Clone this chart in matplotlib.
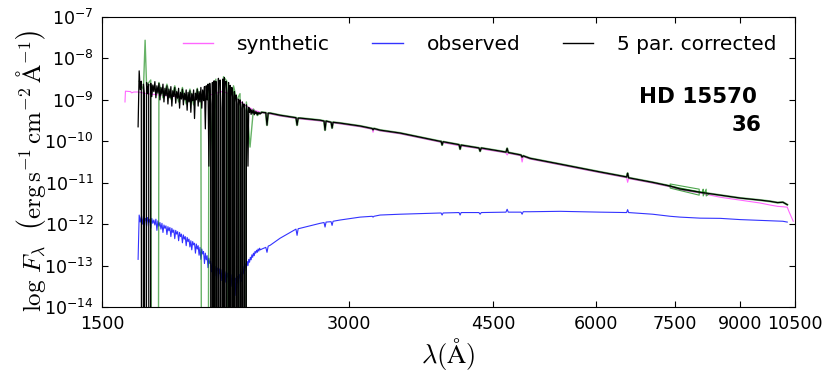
import matplotlib
matplotlib.use('Agg')
import matplotlib.pyplot as plt
import numpy as np
from matplotlib.ticker import FixedLocator, FixedFormatter, NullLocator, LogLocator

plt.rcParams['mathtext.fontset'] = 'cm'
plt.rcParams['axes.unicode_minus'] = False
plt.rcParams['font.family'] = ['DejaVu Sans']

# UV part, noisy: wavelength in A, log10 flux
# (-60 = flux dropped to ~0, off the plot)
uv_wave = [1660, 1665, 1670, 1675, 1680, 1685, 1690, 1695, 1700, 1705,
           1710, 1715, 1720, 1725, 1730, 1735, 1740, 1745, 1750, 1755,
           1760, 1765, 1770, 1775, 1780, 1785, 1790, 1795, 1800, 1805,
           1810, 1815, 1820, 1825, 1830, 1835, 1840, 1845, 1850, 1855,
           1860, 1865, 1870, 1875, 1880, 1885, 1890, 1895, 1900, 1905,
           1910, 1915, 1920, 1925, 1930, 1935, 1940, 1945, 1950, 1955,
           1960, 1965, 1970, 1975, 1980, 1985, 1990, 1995, 2000, 2005,
           2010, 2015, 2020, 2025, 2030, 2035, 2040, 2045, 2050, 2055,
           2060, 2065, 2070, 2075, 2080, 2085, 2090, 2095, 2100, 2105,
           2110, 2115, 2120, 2125, 2130, 2135, 2140, 2145, 2150, 2155,
           2160, 2165, 2170, 2175, 2180, 2185, 2190, 2195, 2200, 2205,
           2210, 2215, 2220, 2225, 2230, 2235, 2240, 2245, 2250, 2255,
           2260, 2265, 2270, 2275, 2280, 2285, 2290, 2295, 2300, 2305,
           2310, 2315, 2320, 2325, 2330, 2335, 2340]
corr_uv = [-9.65, -8.30, -8.75, -8.55, -60, -8.62, -8.88, -60, -8.58, -8.85,
           -8.62, -60, -8.60, -8.92, -8.64, -8.80, -8.56, -8.95, -8.66, -8.84,
           -8.60, -9.00, -8.70, -8.86, -8.62, -9.05, -8.72, -8.90, -8.66, -9.10,
           -8.74, -8.95, -8.68, -9.15, -8.78, -8.92, -8.70, -9.08, -8.80, -8.96,
           -8.72, -9.20, -8.82, -8.98, -8.74, -9.12, -8.84, -9.00, -8.76, -9.25,
           -8.82, -9.05, -8.78, -9.30, -8.85, -9.02, -8.76, -9.45, -8.84, -9.00,
           -8.74, -9.15, -8.80, -9.05, -8.70, -9.20, -8.76, -9.02, -8.68, -9.70,
           -8.66, -9.00, -8.62, -10.6, -8.60, -9.10, -60, -8.58, -60, -8.54,
           -60, -8.55, -8.90, -60, -8.48, -60, -8.52, -9.20, -60, -8.50,
           -60, -8.46, -60, -8.55, -8.85, -60, -8.58, -60, -8.65, -60,
           -8.70, -8.95, -60, -8.80, -60, -8.88, -9.10, -60, -8.98, -60,
           -9.00, -9.20, -60, -9.05, -60, -9.10, -9.25, -60, -9.12, -9.28,
           -10.6, -9.18, -9.30, -9.22, -9.35, -9.24, -9.32, -9.26, -9.36, -9.28,
           -9.33, -9.29, -9.36, -9.30, -9.34, -9.31, -9.34]
obs_uv = [-12.85, -11.78, -11.95, -11.82, -12.00, -11.80, -11.92, -11.86, -12.05, -11.84,
          -11.96, -11.88, -12.10, -11.86, -11.98, -11.90, -12.02, -11.88, -12.15, -11.92,
          -12.05, -11.96, -12.12, -11.98, -12.20, -12.02, -12.10, -12.04, -12.25, -12.06,
          -12.16, -12.08, -12.30, -12.10, -12.20, -12.14, -12.35, -12.15, -12.24, -12.18,
          -12.40, -12.20, -12.30, -12.24, -12.45, -12.26, -12.36, -12.30, -12.52, -12.32,
          -12.42, -12.36, -12.55, -12.40, -12.62, -12.42, -12.50, -12.46, -12.70, -12.48,
          -12.60, -12.52, -12.75, -12.56, -12.85, -12.60, -12.72, -12.66, -12.95, -12.70,
          -12.86, -12.76, -13.05, -12.82, -12.95, -12.90, -13.15, -12.94, -13.05, -12.98,
          -13.25, -13.02, -13.12, -13.06, -13.32, -13.08, -13.20, -13.10, -13.36, -13.12,
          -13.22, -13.14, -13.40, -13.15, -13.28, -13.18, -13.48, -13.20, -13.32, -13.22,
          -13.50, -13.24, -13.36, -13.28, -13.72, -13.30, -13.42, -13.26, -13.55, -13.22,
          -13.30, -13.15, -13.38, -13.08, -13.20, -13.02, -13.12, -12.96, -13.05, -12.90,
          -13.00, -12.85, -12.92, -12.80, -12.86, -12.74, -12.80, -12.70, -12.76, -12.66,
          -12.70, -12.63, -12.68, -12.60, -12.65, -12.58, -12.62]

# green curve in the UV
green_uv_wave = [1665, 1685, 1693, 1700, 1720, 1741, 1760, 1780, 1800, 1820,
                 1840, 1860, 1880, 1900, 1920, 1940, 1960, 1980, 2004, 2025,
                 2045, 2065, 2090, 2110, 2130, 2149, 2170, 2190, 2210, 2232,
                 2250, 2273, 2295, 2320, 2345]
green_uv = [-8.55, -8.75, -7.56, -8.65, -8.52, -60, -8.58, -8.95, -8.62, -8.98,
            -8.66, -9.05, -8.70, -9.10, -8.74, -9.12, -8.72, -9.05, -60, -8.62,
            -10.2, -8.50, -60, -8.44, -8.55, -60, -8.66, -9.00, -8.85, -60,
            -9.05, -10.14, -9.22, -9.38, -9.30]

# optical part
opt_wave = [2350, 2376, 2384, 2392, 2405, 2473, 2586, 2594, 2602, 2616,
            2767, 2798, 2806, 2814, 2854, 2862, 2870, 2927, 3096, 3203,
            3211, 3219, 3275, 3464, 3876, 3887, 3898, 3909, 4088, 4100,
            4112, 4323, 4337, 4351, 4664, 4679, 4694, 4865, 4880, 4895,
            4991, 5430, 6076, 6545, 6563, 6581, 7040, 7396, 7607, 8047,
            8512, 9003, 9524, 9800, 10000, 10150, 10275]
corr_opt = [-9.30, -9.31, -9.61, -9.32, -9.32, -9.37, -9.43, -9.61, -9.44, -9.44,
            -9.49, -9.51, -9.73, -9.51, -9.54, -9.68, -9.54, -9.56, -9.63, -9.69,
            -9.72, -9.69, -9.73, -9.80, -10.00, -10.00, -10.09, -10.01, -10.08, -10.19,
            -10.09, -10.16, -10.24, -10.16, -10.26, -10.17, -10.27, -10.33, -10.38, -10.35,
            -10.41, -10.55, -10.74, -10.86, -10.77, -10.88, -10.99, -11.08, -11.15, -11.23,
            -11.30, -11.37, -11.42, -11.45, -11.48, -11.47, -11.53]
obs_opt = [-12.60, -12.56, -12.68, -12.53, -12.51, -12.34, -12.12, -12.27, -12.11, -12.10,
           -11.98, -11.96, -12.07, -11.95, -11.94, -12.03, -11.93, -11.90, -11.83, -11.81,
           -11.83, -11.81, -11.78, -11.76, -11.73, -11.73, -11.78, -11.73, -11.72, -11.78,
           -11.72, -11.72, -11.76, -11.72, -11.71, -11.64, -11.71, -11.71, -11.76, -11.70,
           -11.70, -11.69, -11.71, -11.72, -11.65, -11.72, -11.76, -11.81, -11.83, -11.855,
           -11.86, -11.89, -11.91, -11.92, -11.93, -11.93, -11.95]

# synthetic model
syn_wave = [1600, 1602, 1625, 1630, 1640, 1660, 1700, 1800, 1900, 2000,
            2100, 2150, 2200, 2250, 2300, 2350, 2405, 2473, 2616, 2767,
            2927, 3096, 3203, 3211, 3219, 3275, 3464, 3876, 4100, 4337,
            4664, 4679, 4694, 4865, 4880, 4895, 4991, 5430, 6076, 6545,
            6563, 6581, 7040, 7396, 7607, 8047, 8512, 9003, 9524, 9800,
            10000, 10150, 10275, 10332, 10449]
syn_flux = [-9.05, -8.79, -8.80, -8.83, -8.81, -8.81, -8.85, -8.90, -8.95, -8.92,
            -8.80, -8.85, -9.00, -9.15, -9.25, -9.31, -9.34, -9.39, -9.46, -9.51,
            -9.58, -9.65, -9.71, -9.78, -9.71, -9.75, -9.82, -10.02, -10.11, -10.18,
            -10.28, -10.33, -10.29, -10.35, -10.50, -10.37, -10.43, -10.57, -10.76, -10.88,
            -10.99, -10.90, -11.01, -11.10, -11.17, -11.25, -11.35, -11.42, -11.49, -11.54,
            -11.57, -11.58, -11.59, -11.71, -11.93]

# green loop near 7400-8200 A
loop_wave = [7300, 7396, 7396, 8024, 8024, 7396, 7396, 8100, 8114, 8114,
             8140, 8183, 8183, 8250]
loop_flux = [-11.06, -11.08, -11.03, -11.155, -11.30, -11.13, -11.08, -11.24, -11.155, -11.32,
             -11.25, -11.155, -11.32, -11.27]

x_ticks = [1500, 3000, 4500, 6000, 7500, 9000, 10500]

fig = plt.figure(figsize=(8.3, 3.74), dpi=100)
ax = fig.add_axes([0.1229, 0.1791, 0.8349, 0.7754])

p = lambda v: 10.0 ** np.array(v, dtype=float)

ax.plot(uv_wave + opt_wave, p(obs_uv + obs_opt), color='blue', lw=0.8, alpha=0.8, label='observed')
ax.plot(syn_wave, p(syn_flux), color='magenta', lw=0.8, alpha=0.6, label='synthetic')
ax.plot(green_uv_wave, p(green_uv), color='green', lw=1.0, alpha=0.6)
ax.plot(opt_wave, p(corr_opt), color='green', lw=1.6, alpha=0.5)
ax.plot(loop_wave, p(loop_flux), color='green', lw=0.8, alpha=0.7)
ax.plot(uv_wave + opt_wave, p(corr_uv + corr_opt), color='black', lw=0.9, label='5 par. corrected')

ax.set_xscale('log')
ax.set_yscale('log')
ax.set_xlim(1500, 10500)
ax.set_ylim(1e-14, 1e-7)

ax.xaxis.set_major_locator(FixedLocator(x_ticks))
ax.xaxis.set_major_formatter(FixedFormatter([str(t) for t in x_ticks]))
ax.xaxis.set_minor_locator(NullLocator())
ax.yaxis.set_major_locator(LogLocator(base=10, numticks=10))
ax.yaxis.set_minor_locator(NullLocator())
ax.tick_params(which='major', direction='in', length=4, width=0.8, labelsize=12.6,
               top=True, right=True, pad=6)

ax.set_ylabel(r'$\log\,F_\lambda\ \ \left(\mathrm{erg\,s^{-1}\,cm^{-2}\,\AA^{-1}}\right)$', fontsize=18)
ax.yaxis.set_label_coords(-0.078, 0.47)
ax.set_xlabel(r'$\lambda(\mathrm{\AA})$', fontsize=19, labelpad=2)

h, l = ax.get_legend_handles_labels()
order = [1, 0, 2]
leg = ax.legend([h[i] for i in order], [l[i] for i in order], loc='upper center', ncol=3,
                frameon=False, fontsize=14.5, handlelength=1.5, handletextpad=1.2,
                columnspacing=2.1, bbox_to_anchor=(0.545, 1.0))
for lh in leg.legend_handles:
    lh.set_linewidth(1.0)

ax.text(0.945, 0.724, 'HD 15570', transform=ax.transAxes, ha='right', va='center',
        fontsize=15.5, fontweight='bold')
ax.text(0.9524, 0.628, '36', transform=ax.transAxes, ha='right', va='center',
        fontsize=15.5, fontweight='bold')

fig.savefig('out.png', dpi=100, facecolor='white')
